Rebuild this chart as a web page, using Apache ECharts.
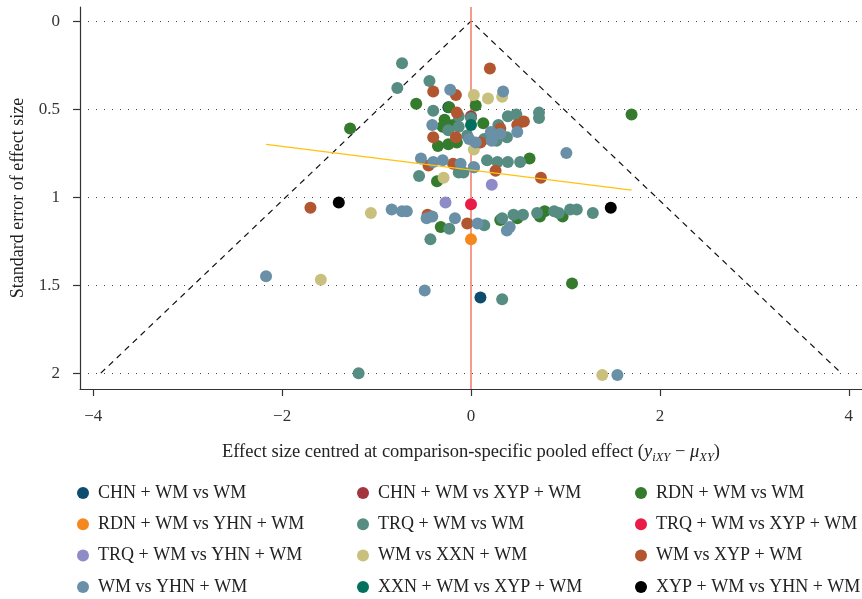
<!DOCTYPE html>
<html>
<head>
<meta charset="utf-8">
<script src="https://cdn.jsdelivr.net/npm/echarts@6/dist/echarts.min.js"></script>
<style>
  html, body { margin: 0; padding: 0; background: #fff; }
  #chart { width: 862px; height: 599px; }
</style>
</head>
<body>
<div id="chart"></div>
<script>
const myChart = echarts.init(document.getElementById('chart'));

// 各比较组 [效应量中心化值, 标准误]
const chnWm = [[-0.24, 0.49], [0.10, 1.57]];
const chnXyp = [[0.00, 0.54]];
const rdnWm = [[-1.28, 0.61], [-0.58, 0.47], [-0.23, 0.49], [0.05, 0.48], [-0.28, 0.56], [0.13, 0.58],
  [-0.30, 0.60], [-0.19, 0.59], [-0.35, 0.71], [-0.24, 0.70], [-0.15, 0.69], [0.62, 0.78], [1.70, 0.53],
  [-0.36, 0.91], [-0.32, 1.17], [0.31, 1.13], [0.49, 1.12], [0.78, 1.08], [0.73, 1.11], [0.97, 1.11], [1.07, 1.49]];
const rdnYhn = [[0.00, 1.24]];
const trqWm = [[-0.73, 0.24], [-0.44, 0.34], [-0.78, 0.38], [-0.40, 0.51], [-0.13, 0.54], [0.00, 0.55],
  [-0.24, 0.62], [-0.13, 0.60], [-0.04, 0.65], [0.14, 0.67], [0.27, 0.68], [0.29, 0.59], [0.39, 0.54],
  [0.48, 0.53], [0.72, 0.52], [0.72, 0.55], [0.38, 0.66], [-0.55, 0.88], [-0.13, 0.86], [-0.08, 0.86],
  [0.03, 0.83], [0.17, 0.79], [0.28, 0.80], [0.39, 0.80], [0.52, 0.80], [-0.43, 1.24], [-0.23, 1.18],
  [0.14, 1.16], [0.33, 1.12], [0.45, 1.10], [0.55, 1.10], [0.70, 1.09], [0.88, 1.08], [0.93, 1.09],
  [1.05, 1.07], [1.12, 1.07], [1.29, 1.09], [0.33, 1.58], [-1.19, 2.00]];
const trqXyp = [[0.00, 1.04]];
const trqYhn = [[0.22, 0.93], [-0.27, 1.03]];
const wmXxn = [[0.03, 0.42], [0.18, 0.44], [0.33, 0.43], [0.03, 0.73], [-0.29, 0.89], [-1.59, 1.47],
  [-1.06, 1.09], [1.39, 2.01]];
const wmXyp = [[0.20, 0.27], [-0.40, 0.40], [-0.16, 0.42], [-0.15, 0.52], [0.31, 0.61], [0.49, 0.59],
  [0.56, 0.57], [-0.40, 0.66], [-0.16, 0.66], [0.10, 0.69], [-0.45, 0.82], [-0.19, 0.81], [0.26, 0.85],
  [0.74, 0.89], [-1.70, 1.06], [-0.46, 1.10], [-0.04, 1.15]];
const wmYhn = [[-0.22, 0.39], [0.34, 0.40], [-0.41, 0.59], [-0.02, 0.67], [0.05, 0.69], [0.21, 0.63],
  [0.31, 0.64], [0.49, 0.63], [0.22, 0.68], [1.01, 0.75], [-0.53, 0.78], [-0.40, 0.80], [-0.30, 0.79],
  [-0.11, 0.81], [0.03, 0.83], [-0.84, 1.07], [-0.73, 1.08], [-0.68, 1.08], [-0.41, 1.11], [-0.47, 1.12],
  [-0.17, 1.12], [0.07, 1.15], [0.41, 1.17], [0.38, 1.19], [-2.17, 1.45], [-0.49, 1.53], [1.55, 2.01]];
const xxnXyp = [[0.00, 0.59]];
const xypYhn = [[-1.40, 1.03], [1.48, 1.06]];

const groupNames = ['CHN + WM vs WM', 'CHN + WM vs XYP + WM', 'RDN + WM vs WM',
  'RDN + WM vs YHN + WM', 'TRQ + WM vs WM', 'TRQ + WM vs XYP + WM',
  'TRQ + WM vs YHN + WM', 'WM vs XXN + WM', 'WM vs XYP + WM',
  'WM vs YHN + WM', 'XXN + WM vs XYP + WM', 'XYP + WM vs YHN + WM'];
const groupData = [chnWm, chnXyp, rdnWm, rdnYhn, trqWm, trqXyp, trqYhn, wmXxn, wmXyp, wmYhn, xxnXyp, xypYhn];
const groupColors = ['#0e4c6e', '#a3353e', '#347b2e', '#f5871f', '#568c81', '#e91c48',
  '#8f8bc6', '#c9c07d', '#b25630', '#6a90a8', '#03705f', '#000000'];

// 参考线
const funnelLimits = [[-3.92, 2], [0, 0], [3.92, 2]];
const zeroLine = [[0, -0.08], [0, 2.09]];
const adjustedLine = [[-2.17, 0.70], [1.70, 0.96]];

// 刻度
const xTicks = [-4, -2, 0, 2, 4];
const yTicks = [0, 0.5, 1, 1.5, 2];

const serif = 'Liberation Serif';
const textColor = '#222';

const series = [
  {
    type: 'line', data: funnelLimits, symbol: 'none', silent: true, z: 1,
    lineStyle: { color: '#111', width: 1.2, type: [6, 5] }
  },
  {
    type: 'line', data: zeroLine, symbol: 'none', silent: true, z: 1,
    lineStyle: { color: '#f4826e', width: 1.6 }
  }
];
groupNames.forEach(function (name, i) {
  series.push({
    name: name,
    type: 'scatter',
    data: groupData[i],
    symbolSize: 12,
    itemStyle: { color: groupColors[i], opacity: 1 },
    z: 2
  });
});
series.push({
  type: 'line', data: adjustedLine, symbol: 'none', silent: true, z: 5,
  lineStyle: { color: '#ffc20e', width: 1.3 }
});

// 图例分三列
function legendColumn(left, names) {
  return {
    orient: 'vertical',
    left: left,
    top: 483,
    padding: 0,
    itemWidth: 12,
    itemHeight: 12,
    itemGap: 11.3,
    icon: 'circle',
    data: names,
    textStyle: { fontFamily: serif, fontSize: 18, color: textColor, lineHeight: 20, padding: [0, 0, 0, 4] }
  };
}

const option = {
  backgroundColor: '#fff',
  animation: false,
  grid: { left: 80, right: 0, top: 7, bottom: 210 },
  legend: [
    legendColumn(77, [groupNames[0], groupNames[3], groupNames[6], groupNames[9]]),
    legendColumn(357, [groupNames[1], groupNames[4], groupNames[7], groupNames[10]]),
    legendColumn(635, [groupNames[2], groupNames[5], groupNames[8], groupNames[11]])
  ],
  xAxis: {
    type: 'value',
    min: -4.14,
    max: 4.14,
    name: '{t|Effect size centred at comparison-specific pooled effect (}{i|y}{s|iXY}{t| − }{i|μ}{s|XY}{t|)}',
    nameLocation: 'middle',
    nameGap: 51,
    nameTextStyle: {
      fontFamily: serif, fontSize: 18.5, color: textColor,
      rich: {
        t: { fontFamily: serif, fontSize: 18.5, color: textColor, lineHeight: 24 },
        i: { fontFamily: serif, fontSize: 18.5, color: textColor, fontStyle: 'italic', lineHeight: 24 },
        s: { fontFamily: serif, fontSize: 12.5, color: textColor, fontStyle: 'italic', lineHeight: 13, verticalAlign: 'bottom' }
      }
    },
    axisLine: { onZero: false, lineStyle: { color: '#333', width: 1.2 } },
    axisTick: { length: 7, customValues: xTicks, lineStyle: { color: '#333', width: 1.2 } },
    axisLabel: {
      customValues: xTicks, margin: 19, fontFamily: serif, fontSize: 17, color: '#333',
      formatter: function (v) { return String(v).replace('-', '\u2212'); }
    },
    splitLine: { show: false }
  },
  yAxis: {
    type: 'value',
    inverse: true,
    min: -0.08,
    max: 2.09,
    name: 'Standard error of effect size',
    nameLocation: 'middle',
    nameGap: 53,
    nameTextStyle: { fontFamily: serif, fontSize: 18, color: textColor },
    axisLine: { show: true, onZero: false, lineStyle: { color: '#333', width: 1.2 } },
    axisTick: { show: true, length: 7, customValues: yTicks, lineStyle: { color: '#333', width: 1.2 } },
    axisLabel: { customValues: yTicks, margin: 20, fontFamily: serif, fontSize: 17, color: '#333' },
    splitLine: { show: true, lineStyle: { color: '#444', width: 1, type: [1, 7] } }
  },
  series: series
};
myChart.setOption(option);
</script>
</body>
</html>
